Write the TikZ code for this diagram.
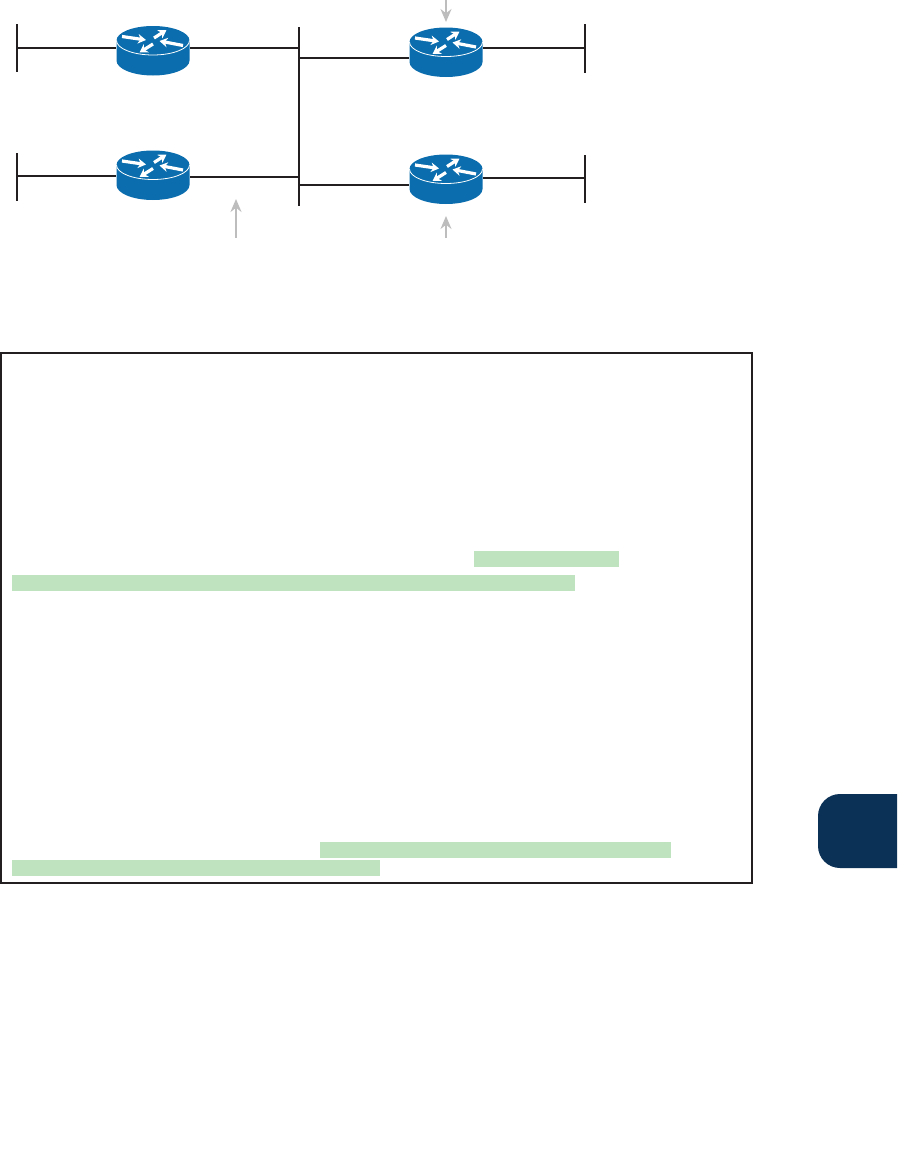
\documentclass[tikz,border=0pt]{standalone}
\usetikzlibrary{arrows.meta}
\definecolor{routerblue}{HTML}{0B6DAD}
\definecolor{markgreen}{HTML}{BFE3BE}
\definecolor{tabnavy}{HTML}{0B3157}
\definecolor{arrowgray}{HTML}{BDBDBD}
\definecolor{linedark}{HTML}{231F20}
\tikzset{
	wire/.style={linedark, line width=1.5pt},
	callout/.style={arrowgray, line width=1.5pt, -{Stealth[length=13pt,width=11pt]}},
	flow/.style={white, line width=3.2pt, -{Stealth[length=8pt,width=9.5pt]}},
	routerbox/.style={minimum width=74pt, minimum height=49pt, inner sep=0pt},
	markbar/.style={fill=markgreen, draw=none},
	pics/router/.style={code={
		% Body and top face
		\fill[routerblue] (-36.5,-11) -- (-36.5,9) arc[start angle=180, end angle=360, x radius=36.5pt, y radius=15pt]
			-- (36.5,-11) arc[start angle=0, end angle=180, x radius=36.5pt, y radius=14.5pt] -- cycle;
		\draw[white, line width=.8pt] (-36.5,-11) arc[start angle=180, end angle=360, x radius=36.5pt, y radius=14.5pt];
		% Four arrows on the top face
		\draw[flow] (-31,-15) -- (-7,-11.5);
		\draw[flow] (1,-13.5) -- (13.5,-21.5);
		\draw[flow] (30,-6) -- (6.5,-10.5);
		\draw[flow] (0,-7.5) -- (-13.5,1);
	}},
}
\begin{document}
\begin{tikzpicture}[x=1pt, y=-1pt, line cap=butt]
	\useasboundingbox (0,0) rectangle (897,1167);

	% Routers
	\node[routerbox] (rA) at (153,51.5) {};
	\node[routerbox] (rB) at (153,176) {};
	\node[routerbox] (rC) at (446,53) {};
	\node[routerbox] (rD) at (446,180) {};
	\foreach \r in {rA,rB,rC,rD}
	\pic at (\r) {router};

	% Ends of the outer segments
	\coordinate (barA) at (17,48);
	\coordinate (barB) at (17,176);
	\coordinate (barC) at (585,48);
	\coordinate (barD) at (585,178);
	\draw[wire] (17,24) -- (barA) -- (17,72);
	\draw[wire] (17,153) -- (barB) -- (17,201);
	\draw[wire] (585,24) -- (barC) -- (585,73);
	\draw[wire] (585,155) -- (barD) -- (585,203);

	% Centre segment
	\coordinate (busA) at (299,48);
	\coordinate (busB) at (299,177);
	\coordinate (busC) at (299,58);
	\coordinate (busD) at (299,185);
	\draw[wire] (299,27) -- (299,206);

	% Links
	\draw[wire] (barA) -- (barA -| rA.west);
	\draw[wire] (barB) -- (barB -| rB.west);
	\draw[wire] (barC) -- (barC -| rC.east);
	\draw[wire] (barD) -- (barD -| rD.east);
	\draw[wire] (busA) -- (busA -| rA.east);
	\draw[wire] (busB) -- (busB -| rB.east);
	\draw[wire] (busC) -- (busC -| rC.west);
	\draw[wire] (busD) -- (busD -| rD.west);

	% Grey arrows
	\coordinate (inC) at (446,0);
	\coordinate (inB) at (236,238);
	\coordinate (inD) at (446,238);
	\draw[callout] (inC) -- (446,22);
	\draw[callout] (inB) -- (236,199);
	\draw[callout] (inD) -- (446,216);

	% Highlighted lines
	\fill[markbar] (474,551) rectangle (619,567);
	\fill[markbar] (12,575) rectangle (575,591);
	\fill[markbar] (320,842) rectangle (671,858);
	\fill[markbar] (12,860) rectangle (380,876);

	% Frame
	\draw[linedark, line width=1.6pt] (1,353) rectangle (752,883);

	% Side tab
	\fill[tabnavy] (897,794) -- (840,794) arc[start angle=90, end angle=180, radius=22pt]
		-- (818,846) arc[start angle=180, end angle=270, radius=22pt] -- (897,868) -- cycle;
\end{tikzpicture}
\end{document}
